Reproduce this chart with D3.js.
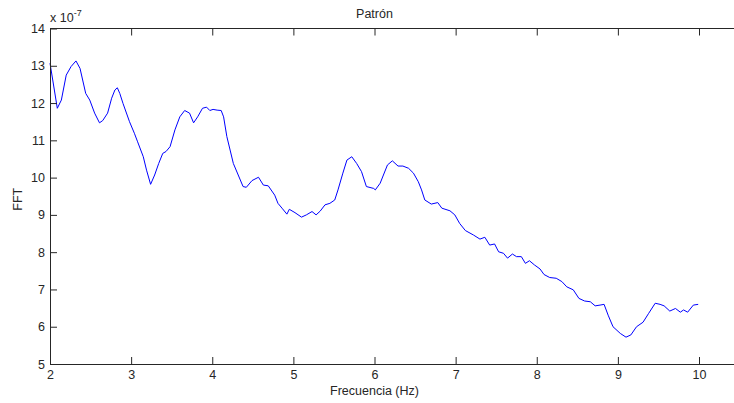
<!DOCTYPE html>
<html>
<head>
<meta charset="utf-8">
<script src="https://cdn.jsdelivr.net/npm/d3@7"></script>
<style>
  html, body { margin: 0; padding: 0; background: #fff; overflow: hidden; }
  svg { display: block; }
  text { font-family: "Liberation Sans", Arial, sans-serif; fill: #262626; }
</style>
</head>
<body>
<script>
// Spectrum samples: frequency (Hz) and FFT magnitude (x 1e-7)
const freq = [2.00, 2.09, 2.14, 2.20, 2.26, 2.32, 2.37, 2.44, 2.49, 2.55, 2.61, 2.65, 2.71, 2.76, 2.80, 2.83, 2.86, 2.90, 2.98, 3.04,
  3.08, 3.15, 3.19, 3.24, 3.29, 3.34, 3.39, 3.43, 3.48, 3.54, 3.60, 3.66, 3.72, 3.77, 3.82, 3.88, 3.93, 3.97, 4.01, 4.06,
  4.11, 4.14, 4.18, 4.22, 4.26, 4.32, 4.38, 4.42, 4.49, 4.57, 4.63, 4.69, 4.77, 4.81, 4.86, 4.92, 4.95, 5.02, 5.10, 5.16,
  5.23, 5.28, 5.33, 5.39, 5.45, 5.51, 5.55, 5.61, 5.66, 5.72, 5.78, 5.84, 5.90, 5.99, 6.01, 6.07, 6.11, 6.16, 6.22, 6.29,
  6.35, 6.42, 6.48, 6.54, 6.58, 6.62, 6.70, 6.78, 6.83, 6.93, 6.99, 7.05, 7.12, 7.22, 7.30, 7.36, 7.42, 7.48, 7.53, 7.59,
  7.64, 7.70, 7.75, 7.81, 7.86, 7.91, 7.97, 8.04, 8.09, 8.16, 8.24, 8.31, 8.37, 8.45, 8.52, 8.59, 8.66, 8.72, 8.78, 8.83,
  8.88, 8.94, 9.03, 9.10, 9.16, 9.23, 9.31, 9.38, 9.46, 9.52, 9.57, 9.64, 9.71, 9.77, 9.81, 9.86, 9.93, 9.99];
const fft = [13.07, 11.86, 12.08, 12.75, 12.98, 13.13, 12.93, 12.26, 12.08, 11.73, 11.47, 11.53, 11.73, 12.13, 12.35, 12.41, 12.26, 11.99, 11.50, 11.19,
  10.96, 10.56, 10.20, 9.82, 10.07, 10.38, 10.65, 10.70, 10.83, 11.28, 11.63, 11.80, 11.73, 11.47, 11.63, 11.86, 11.89, 11.80, 11.83, 11.81,
  11.80, 11.63, 11.10, 10.74, 10.38, 10.07, 9.76, 9.74, 9.92, 10.01, 9.80, 9.78, 9.53, 9.31, 9.18, 9.02, 9.15, 9.06, 8.94, 9.00,
  9.09, 9.00, 9.10, 9.27, 9.31, 9.40, 9.67, 10.12, 10.47, 10.56, 10.38, 10.16, 9.76, 9.71, 9.67, 9.85, 10.07, 10.34, 10.45, 10.31,
  10.31, 10.25, 10.12, 9.89, 9.67, 9.40, 9.29, 9.33, 9.18, 9.11, 9.00, 8.77, 8.58, 8.46, 8.35, 8.40, 8.19, 8.22, 8.01, 7.97,
  7.84, 7.95, 7.88, 7.88, 7.70, 7.77, 7.66, 7.55, 7.40, 7.32, 7.30, 7.21, 7.07, 6.99, 6.76, 6.69, 6.67, 6.56, 6.58, 6.60,
  6.31, 6.00, 5.82, 5.72, 5.78, 6.00, 6.12, 6.36, 6.63, 6.60, 6.56, 6.42, 6.49, 6.39, 6.45, 6.39, 6.58, 6.60];

const xTicks = [2, 3, 4, 5, 6, 7, 8, 9, 10];
const yTicks = [5, 6, 7, 8, 9, 10, 11, 12, 13, 14];

const W = 734, H = 403;
const plotLeft = 50, plotTop = 28.5, plotBottom = 364;
const xScale = d3.scaleLinear().domain([2, 10]).range([plotLeft, 699]);
const xMax = 10.6;                        // axes box extends past the window on the right
const yScale = d3.scaleLinear().domain([5, 14]).range([plotBottom, plotTop]);
const plotRight = xScale(xMax);

const svg = d3.select("body").append("svg").attr("width", W).attr("height", H);

// curve
const pts = freq.map((f, i) => [f, fft[i]]);
svg.append("path")
  .datum(pts)
  .attr("fill", "none")
  .attr("stroke", "#0000ff")
  .attr("stroke-width", 1)
  .attr("stroke-linejoin", "round")
  .attr("d", d3.line().x(d => xScale(d[0])).y(d => yScale(d[1])));

const axisColor = "#262626";
const tickLen = 7;

// bottom axis (ticks pointing inward)
const gx = svg.append("g").attr("transform", `translate(0,${plotBottom})`)
  .call(d3.axisBottom(xScale).tickValues(xTicks).tickSize(-tickLen).tickPadding(6).tickFormat(d3.format("d")));
// top axis
const gt = svg.append("g").attr("transform", `translate(0,${plotTop})`)
  .call(d3.axisTop(xScale).tickValues(xTicks).tickSize(-tickLen).tickFormat(""));
// left axis
const gy = svg.append("g").attr("transform", `translate(${plotLeft},0)`)
  .call(d3.axisLeft(yScale).tickValues(yTicks).tickSize(-tickLen).tickPadding(5).tickFormat(d3.format("d")));

[gx, gt, gy].forEach(g => {
  g.select(".domain").remove();
  g.selectAll(".tick line").attr("stroke", axisColor).attr("stroke-width", 1);
  g.selectAll(".tick text").attr("font-size", "12.5px").attr("fill", axisColor)
    .attr("font-family", "'Liberation Sans', Arial, sans-serif");
});

// axes box lines
const box = svg.append("g").attr("stroke", axisColor).attr("stroke-width", 1).attr("shape-rendering", "crispEdges");
box.append("line").attr("x1", plotLeft).attr("x2", plotRight).attr("y1", plotBottom).attr("y2", plotBottom);
box.append("line").attr("x1", plotLeft).attr("x2", plotRight).attr("y1", plotTop).attr("y2", plotTop);
box.append("line").attr("x1", plotLeft).attr("x2", plotLeft).attr("y1", plotTop).attr("y2", plotBottom);

// title
svg.append("text").attr("x", xScale(6)).attr("y", 18).attr("text-anchor", "middle")
  .attr("font-size", "12.5px").text("Patrón");

// x label
svg.append("text").attr("x", xScale(6)).attr("y", 395).attr("text-anchor", "middle")
  .attr("font-size", "12.5px").text("Frecuencia (Hz)");

// y label
svg.append("text").attr("transform", `translate(22,${(plotTop + plotBottom) / 2 + 3}) rotate(-90)`)
  .attr("text-anchor", "middle").attr("font-size", "12.5px").text("FFT");

// exponent
const ex = svg.append("text").attr("x", 50).attr("y", 22).attr("font-size", "12.5px");
ex.append("tspan").text("x 10");
ex.append("tspan").attr("dy", -6).attr("font-size", "9px").text("-7");
</script>
</body>
</html>
